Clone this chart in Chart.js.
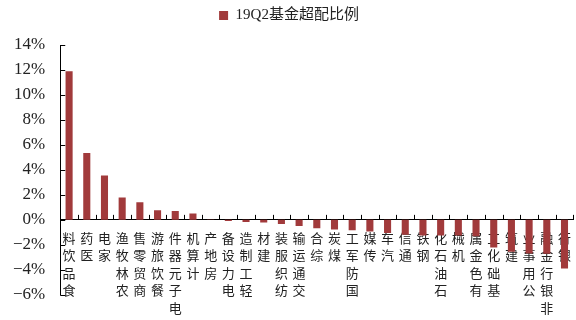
<!DOCTYPE html>
<html>
<head>
<meta charset="utf-8">
<script src="https://cdn.jsdelivr.net/npm/chart.js@4.4.0/dist/chart.umd.min.js"></script>
<style>
  html, body { margin: 0; padding: 0; background: #fff; overflow: hidden; }
  /* plot runs slightly past the right edge, as in the original */
  #wrap { width: 580px; height: 320px; }
</style>
</head>
<body>
<div id="wrap"><canvas id="chart"></canvas></div>
<script>
// industries in chart order, left to right
const industries = [
  '食品饮料', '医药', '家电', '农林牧渔', '商贸零售', '餐饮旅游', '电子元器件', '计算机',
  '房地产', '电力设备', '轻工制造', '建材', '纺织服装', '交通运输', '综合', '煤炭',
  '国防军工', '传媒', '汽车', '通信', '钢铁', '石油石化', '机械', '有色金属',
  '基础化工', '建筑', '公用事业', '非银行金融', '银行'
];
// overweight ratio, %
const overweight = [
  11.9, 5.35, 3.55, 1.8, 1.4, 0.77, 0.7, 0.5,
  0.02, -0.1, -0.17, -0.22, -0.33, -0.5, -0.67, -0.78,
  -0.83, -0.94, -1.05, -1.2, -1.26, -1.25, -1.26, -1.31,
  -2.22, -2.55, -2.7, -2.72, -3.9
];
const seriesName = '19Q2基金超配比例';
const yMin = -6, yMax = 14, yStep = 2;

const barColor = '#A13A3B';
const serif = '"Liberation Serif", "Times New Roman", "Noto Sans CJK SC", serif';
const cjk = '"Noto Sans CJK SC", sans-serif';

// labels are stacked upright characters, read bottom to top
const stacked = industries.map(s => [...s].reverse());

// short tick marks pointing into the plot
const tickMarks = {
  id: 'tickMarks',
  afterDatasetsDraw(chart) {
    const {ctx, scales: {x, y}} = chart;
    const y0 = y.getPixelForValue(0);
    ctx.save();
    ctx.strokeStyle = '#000';
    ctx.lineWidth = 1;
    ctx.beginPath();
    y.ticks.forEach(t => {
      const py = Math.round(y.getPixelForValue(t.value)) + 0.5;
      ctx.moveTo(x.left, py);
      ctx.lineTo(x.left + 5, py);
    });
    for (let i = 1; i <= industries.length; i++) {
      const px = Math.round((x.getPixelForValue(i - 1) + x.getPixelForValue(i)) / 2) + 0.5;
      ctx.moveTo(px, y0);
      ctx.lineTo(px, y0 - 5);
    }
    ctx.stroke();
    ctx.restore();
  }
};

// extra room under the legend
const legendGap = {
  id: 'legendGap',
  beforeInit(chart) {
    const fit = chart.legend.fit;
    chart.legend.fit = function () {
      fit.call(this);
      this.height += 12;
    };
  }
};

new Chart(document.getElementById('chart'), {
  type: 'bar',
  data: {
    labels: stacked,
    datasets: [{
      label: seriesName,
      data: overweight,
      backgroundColor: barColor,
      borderWidth: 0,
      barPercentage: 0.4,
      categoryPercentage: 1.0
    }]
  },
  options: {
    responsive: true,
    maintainAspectRatio: false,
    animation: false,
    layout: { padding: { top: 0, left: -2, right: 0, bottom: 23 } },
    plugins: {
      legend: {
        position: 'top',
        labels: {
          boxWidth: 9,
          boxHeight: 9,
          padding: 8,
          color: '#222',
          font: { family: serif, size: 15 }
        }
      },
      tooltip: { enabled: false }
    },
    scales: {
      x: {
        position: { y: 0 },
        grid: { display: false, drawTicks: false },
        border: { display: true, color: '#000', width: 1 },
        ticks: {
          autoSkip: false,
          maxRotation: 0,
          minRotation: 0,
          padding: 9,
          color: '#222',
          font: { family: cjk, size: 13, lineHeight: 1.35 }
        }
      },
      y: {
        min: yMin,
        max: yMax,
        grid: { display: false, drawTicks: false },
        border: { display: true, color: '#000', width: 1 },
        ticks: {
          stepSize: yStep,
          padding: 15,
          color: '#222',
          font: { family: serif, size: 17 },
          callback: v => (v < 0 ? '\u2212' + Math.abs(v) : v) + '%'
        }
      }
    }
  },
  plugins: [tickMarks, legendGap]
});
</script>
</body>
</html>
